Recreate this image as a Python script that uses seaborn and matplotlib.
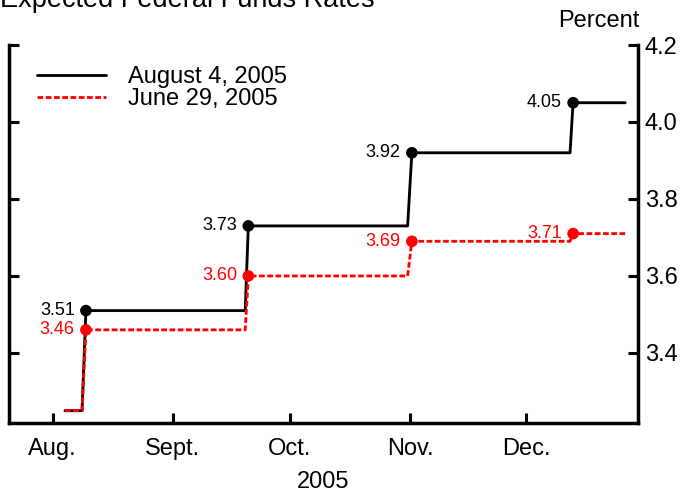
import matplotlib
matplotlib.use("Agg")
import matplotlib.pyplot as plt
import seaborn as sns
import pandas as pd
from matplotlib.lines import Line2D

# Days since Aug 1, 2005
days = [3.2, 7.6, 8.6, 49.6, 50.4, 91.4, 92.5, 133.2, 134.0, 147.4]
aug4 = [3.25, 3.25, 3.51, 3.51, 3.73, 3.73, 3.92, 3.92, 4.05, 4.05]
jun29 = [3.25, 3.25, 3.46, 3.46, 3.60, 3.60, 3.69, 3.69, 3.71, 3.71]
dot_idx = [2, 4, 6, 8]
series_names = ["August 4, 2005", "June 29, 2005"]
month_pos = [0, 31, 61, 92, 122]
month_labels = ["Aug.", "Sept.", "Oct.", "Nov.", "Dec."]
yticks = [3.4, 3.6, 3.8, 4.0, 4.2]

sns.set_style("white")
plt.rcParams["font.family"] = ["Liberation Sans", "DejaVu Sans"]
for k in ["text.color", "axes.labelcolor", "xtick.color", "ytick.color"]:
    plt.rcParams[k] = "black"

df = pd.DataFrame({
    "day": days + days,
    "rate": aug4 + jun29,
    "series": [series_names[0]] * len(days) + [series_names[1]] * len(days),
})

W, H = 691, 495
fig = plt.figure(figsize=(W / 100, H / 100), dpi=100)
ax = fig.add_axes([9 / W, (H - 423) / H, (638 - 9) / W, (423 - 45) / H])

red = "#ff0000"
dash = (0, (2.0, 0.9))
lw = 2.05
colors = {series_names[0]: "black", series_names[1]: red}
sns.lineplot(data=df, x="day", y="rate", hue="series", palette=colors,
             sort=False, estimator=None, ax=ax, linewidth=lw, legend=False)
ax.lines[1].set_linestyle(dash)

pts = pd.DataFrame({
    "day": [days[i] for i in dot_idx] * 2,
    "rate": [aug4[i] for i in dot_idx] + [jun29[i] for i in dot_idx],
    "series": [series_names[0]] * 4 + [series_names[1]] * 4,
})
sns.scatterplot(data=pts, x="day", y="rate", hue="series", palette=colors,
                s=70, edgecolor="none", ax=ax, legend=False, zorder=5)

for i in dot_idx:
    ax.annotate(f"{aug4[i]:.2f}", (days[i], aug4[i]), xytext=(-8, 0),
                textcoords="offset points", ha="right", va="center",
                fontsize=13, color="black")
    ax.annotate(f"{jun29[i]:.2f}", (days[i], jun29[i]), xytext=(-8, 0),
                textcoords="offset points", ha="right", va="center",
                fontsize=13, color=red)

ax.set_xlim(-11.2, 150.7)
ax.set_ylim(3.218, 4.2)
ax.set_xticks(month_pos)
ax.set_xticklabels(month_labels)
ax.set_yticks(yticks)
ax.set_yticklabels([f"{v:.1f}" for v in yticks])
ax.set_yticks([4.2], minor=True)
ax.set_xlabel("2005", fontsize=17, labelpad=8.5)
ax.set_ylabel("")

for s in ["left", "right", "bottom"]:
    ax.spines[s].set_visible(True)
    ax.spines[s].set_linewidth(2.5)
    ax.spines[s].set_color("black")
ax.spines["top"].set_visible(False)

ax.tick_params(axis="y", which="major", left=True, right=True, labelleft=False,
               labelright=True, direction="in", length=7, width=2.2,
               labelsize=17, pad=5)
ax.tick_params(axis="y", which="minor", left=True, right=True, labelleft=False,
               labelright=False, direction="in", length=12, width=2.2)
ax.tick_params(axis="x", bottom=True, direction="in", length=7, width=2.2,
               labelsize=17, pad=10.5)

handles = [Line2D([], [], color="black", lw=lw),
           Line2D([], [], color=red, lw=lw, linestyle=dash)]
ax.legend(handles, series_names, loc="upper left", bbox_to_anchor=(0.03, 0.97),
          frameon=False, fontsize=17, handlelength=2.9, handletextpad=0.93,
          labelspacing=0.0, borderaxespad=0)

fig.text(0.0, 1 - 7 / H, "Expected Federal Funds Rates", fontsize=19.5,
         ha="left", va="baseline")
fig.text(640 / W, 1 - 27 / H, "Percent", fontsize=17, ha="right", va="baseline")

fig.savefig("out.png", dpi=100)
